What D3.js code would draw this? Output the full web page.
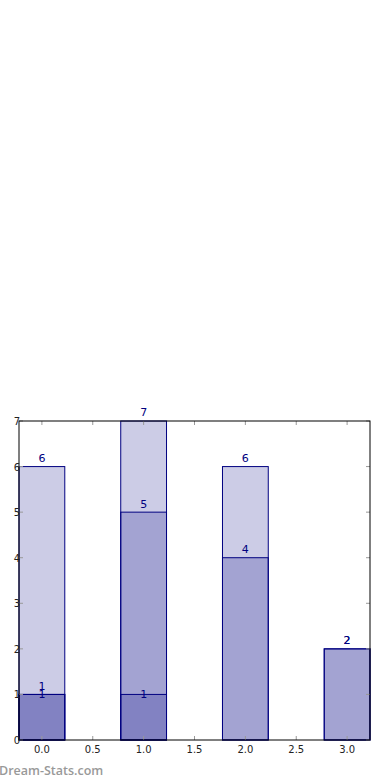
<!DOCTYPE html>
<html>
<head>
<meta charset="utf-8">
<script src="https://cdn.jsdelivr.net/npm/d3@7"></script>
<style>
  body { margin: 0; background: #fff; }
  svg { display: block; }
</style>
</head>
<body>
<svg id="chart" width="390" height="780"></svg>
<script>
// three overlapping series, drawn with alpha on top of each other
const positions = [0, 1, 2, 3];
const seriesA = [6, 7, 6, 2];
const seriesB = [1, 5, 4, 2];
const seriesC = [1, 1];
const xTicks = [0, 0.5, 1, 1.5, 2, 2.5, 3];
const yTicks = [0, 1, 2, 3, 4, 5, 6, 7];

const W = 390, H = 780;
const m = {left: 19, right: 20, top: 421, bottom: 40};
const barW = 0.45;
const navy = '#000080';

const svg = d3.select('#chart');

const x = d3.scaleLinear().domain([-0.225, 3.225]).range([m.left, W - m.right]);
const y = d3.scaleLinear().domain([0, 7]).range([H - m.bottom, m.top]);

function drawBars(vals, labelMode) {
    const g = svg.append('g');
    g.selectAll('rect')
        .data(vals)
        .enter()
        .append('rect')
        .attr('x', (d, i) => x(positions[i] - barW / 2))
        .attr('y', d => y(d))
        .attr('width', x(barW) - x(0))
        .attr('height', d => y(0) - y(d))
        .attr('fill', navy)
        .attr('fill-opacity', 0.2)
        .attr('stroke', navy)
        .attr('stroke-width', 1);

    g.selectAll('text')
        .data(vals)
        .enter()
        .append('text')
        .attr('x', (d, i) => x(positions[i]))
        .attr('y', d => labelMode === 'center' ? y(d) + 4 : y(d + 0.1))
        .attr('text-anchor', 'middle')
        .attr('fill', navy)
        .style('font-family', 'DejaVu Sans')
        .style('font-size', '11px')
        .text(d => d);
}

drawBars(seriesA, 'top');
drawBars(seriesB, 'top');
drawBars(seriesC, 'center');

// inward ticks on all four sides
const tickLen = 4;
const ticks = svg.append('g').attr('stroke', '#999').attr('stroke-width', 1);
xTicks.forEach(t => {
    ticks.append('line').attr('x1', x(t)).attr('x2', x(t)).attr('y1', y(0)).attr('y2', y(0) - tickLen);
    ticks.append('line').attr('x1', x(t)).attr('x2', x(t)).attr('y1', y(7)).attr('y2', y(7) + tickLen);
});
yTicks.forEach(t => {
    ticks.append('line').attr('x1', x.range()[0]).attr('x2', x.range()[0] + tickLen).attr('y1', y(t)).attr('y2', y(t));
    ticks.append('line').attr('x1', x.range()[1]).attr('x2', x.range()[1] - tickLen).attr('y1', y(t)).attr('y2', y(t));
});

// frame
svg.append('rect')
    .attr('x', x.range()[0])
    .attr('y', y(7))
    .attr('width', x.range()[1] - x.range()[0])
    .attr('height', y(0) - y(7))
    .attr('fill', 'none')
    .attr('stroke', '#000')
    .attr('stroke-width', 1);

// tick labels
svg.append('g').selectAll('text')
    .data(xTicks)
    .enter()
    .append('text')
    .attr('x', d => x(d))
    .attr('y', y(0) + 13)
    .attr('text-anchor', 'middle')
    .attr('fill', '#222')
    .style('font-family', 'DejaVu Sans')
    .style('font-size', '10px')
    .text(d => d.toFixed(1));

svg.append('g').selectAll('text')
    .data(yTicks)
    .enter()
    .append('text')
    .attr('x', x.range()[0] + 1)
    .attr('y', d => y(d) + 4)
    .attr('text-anchor', 'end')
    .attr('fill', '#222')
    .style('font-family', 'DejaVu Sans')
    .style('font-size', '10px')
    .text(d => d);

// watermark
svg.append('text')
    .attr('x', -1)
    .attr('y', 775)
    .attr('fill', '#999')
    .style('font-family', 'Open Sans')
    .style('font-weight', '600')
    .style('font-size', '12.5px')
    .text('Dream-Stats.com');
</script>
</body>
</html>
